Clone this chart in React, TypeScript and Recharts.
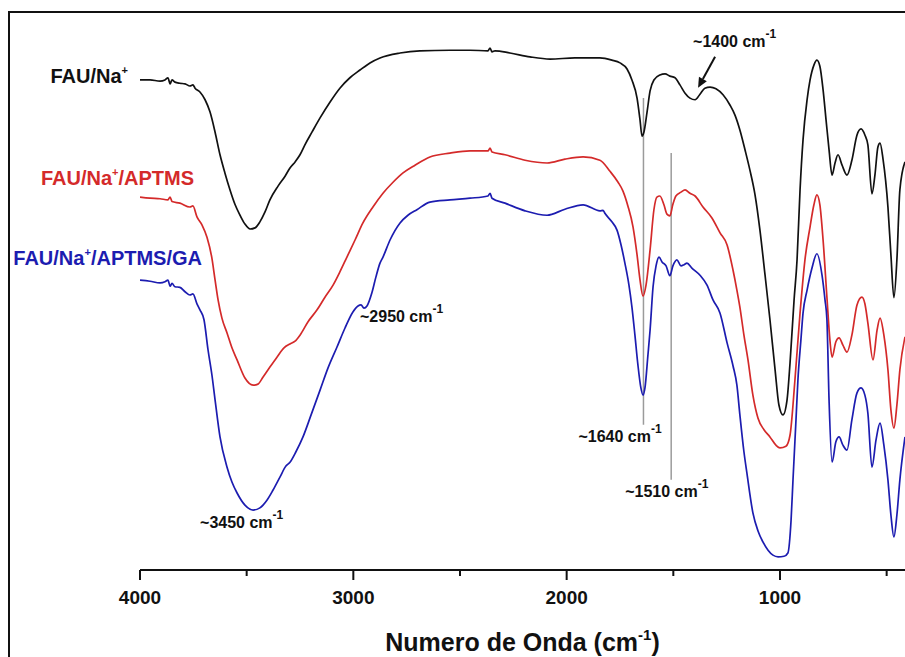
import React from "react";
import { LineChart, Line, XAxis, YAxis, ReferenceLine, ReferenceDot } from "recharts";

// FTIR spectra: [wavenumber (cm-1), transmittance (a.u.)]
const fauNa: [number, number][] = [
  [4000, 89.1], [3953, 89.1], [3906, 88.9], [3883, 89.1], [3869, 89.5], [3859, 88.4], [3850, 89.1],
  [3836, 88.7], [3813, 88.5], [3789, 88.4], [3766, 88.0], [3752, 88.2], [3742, 87.6], [3719, 86.9],
  [3695, 85.5], [3672, 83.3], [3648, 79.6], [3625, 75.5], [3602, 72.2], [3578, 69.1], [3555, 66.5],
  [3531, 64.5], [3508, 62.9], [3484, 62.0], [3461, 62.2], [3438, 63.3], [3414, 65.1], [3391, 67.3],
  [3353, 69.8], [3320, 71.6], [3297, 73.1], [3273, 74.2], [3250, 75.5], [3227, 77.3], [3194, 79.6],
  [3156, 82.2], [3109, 85.1], [3063, 87.6], [3016, 89.5], [2969, 90.9], [2922, 92.2], [2875, 93.1],
  [2781, 94.0], [2688, 94.4], [2547, 94.5], [2453, 94.5], [2369, 94.4], [2359, 94.9], [2350, 94.2],
  [2336, 94.4], [2266, 94.0], [2172, 93.3], [2078, 92.9], [1961, 93.1], [1844, 93.1], [1788, 92.7],
  [1750, 92.2], [1717, 91.1], [1694, 89.1], [1670, 85.8], [1656, 81.8], [1647, 78.9], [1638, 79.6],
  [1623, 83.3], [1609, 87.1], [1591, 89.1], [1563, 90.0], [1539, 90.2], [1516, 89.8], [1492, 89.5],
  [1469, 88.2], [1445, 86.7], [1422, 85.8], [1398, 85.5], [1375, 86.5], [1352, 87.6], [1328, 87.8],
  [1300, 87.5], [1267, 86.4], [1234, 84.5], [1211, 82.7], [1188, 80.0], [1164, 76.4], [1141, 72.7],
  [1117, 68.2], [1094, 61.8], [1070, 53.6], [1047, 45.5], [1023, 36.4], [1005, 30.0], [986, 28.2],
  [967, 30.9], [953, 37.6], [934, 49.1], [920, 56.4], [906, 69.1], [892, 78.2], [873, 85.5],
  [859, 89.1], [841, 91.8], [827, 92.7], [813, 91.6], [798, 87.3], [784, 81.8], [770, 76.4],
  [756, 71.8], [742, 74.0], [728, 75.5], [709, 73.6], [686, 71.8], [663, 74.5], [639, 79.1],
  [620, 80.2], [602, 79.1], [588, 77.3], [569, 68.4], [555, 71.8], [541, 76.9], [531, 77.6],
  [517, 74.7], [494, 66.0], [480, 57.3], [466, 49.5], [452, 56.4], [438, 69.1], [414, 74.2],
];

const fauNaAptms: [number, number][] = [
  [4000, 67.8], [3953, 67.6], [3906, 67.5], [3869, 67.3], [3859, 67.8], [3850, 67.0], [3813, 66.7],
  [3766, 66.0], [3752, 66.2], [3733, 64.2], [3709, 62.7], [3686, 60.5], [3663, 56.7], [3648, 52.7],
  [3634, 49.1], [3616, 45.8], [3592, 43.1], [3569, 40.4], [3545, 38.2], [3508, 34.9], [3470, 33.6],
  [3447, 33.8], [3423, 35.1], [3391, 36.9], [3358, 38.7], [3325, 40.4], [3297, 41.1], [3273, 41.6],
  [3250, 42.7], [3213, 45.1], [3170, 47.3], [3133, 49.6], [3095, 51.8], [3063, 54.2], [3030, 56.9],
  [2992, 60.0], [2955, 63.1], [2908, 66.0], [2861, 68.5], [2814, 70.5], [2767, 72.2], [2711, 73.6],
  [2641, 75.1], [2547, 75.8], [2453, 76.2], [2369, 76.2], [2359, 76.7], [2350, 76.0], [2289, 75.5],
  [2195, 74.5], [2092, 74.0], [2008, 74.7], [1923, 75.1], [1844, 74.5], [1797, 72.5], [1759, 70.5],
  [1736, 68.9], [1713, 66.2], [1689, 62.4], [1670, 57.3], [1656, 52.7], [1642, 49.8], [1628, 51.8],
  [1609, 58.2], [1591, 65.5], [1577, 67.8], [1563, 68.0], [1544, 66.4], [1530, 64.7], [1516, 64.4],
  [1502, 66.5], [1488, 68.0], [1464, 68.7], [1445, 69.1], [1422, 68.5], [1398, 68.0], [1361, 66.0],
  [1319, 64.0], [1281, 61.3], [1248, 59.1], [1220, 54.5], [1202, 50.9], [1188, 47.8], [1169, 42.7],
  [1150, 38.2], [1127, 31.8], [1103, 27.6], [1075, 25.5], [1047, 24.2], [1019, 22.7], [1000, 22.2],
  [972, 22.5], [953, 24.5], [930, 34.5], [906, 46.7], [883, 56.4], [859, 62.4], [841, 66.4],
  [827, 68.2], [813, 66.4], [798, 60.0], [780, 49.6], [766, 41.8], [756, 38.7], [738, 41.5],
  [723, 42.2], [705, 40.9], [686, 39.6], [663, 42.7], [639, 48.2], [616, 49.6], [602, 48.4],
  [588, 44.9], [564, 38.2], [545, 43.6], [531, 45.8], [513, 42.7], [494, 36.4], [480, 29.1],
  [466, 25.8], [452, 30.0], [438, 36.4], [414, 42.4],
];

const fauNaAptmsGa: [number, number][] = [
  [4000, 52.7], [3953, 52.5], [3906, 52.2], [3883, 52.4], [3869, 52.7], [3859, 51.6], [3850, 52.1],
  [3836, 51.5], [3813, 51.4], [3789, 50.6], [3766, 50.0], [3752, 50.2], [3733, 48.4], [3719, 47.3],
  [3700, 45.5], [3681, 40.0], [3663, 35.5], [3648, 30.9], [3625, 24.2], [3592, 18.7], [3569, 16.0],
  [3545, 14.0], [3508, 11.8], [3470, 10.9], [3438, 11.3], [3405, 12.7], [3377, 14.5], [3344, 16.9],
  [3316, 18.9], [3297, 19.6], [3269, 21.5], [3236, 24.2], [3198, 28.2], [3156, 32.7], [3119, 36.7],
  [3077, 40.5], [3039, 44.0], [3002, 46.9], [2978, 48.0], [2964, 48.2], [2950, 47.6], [2936, 48.0],
  [2913, 50.4], [2894, 53.3], [2875, 55.8], [2861, 56.9], [2828, 60.0], [2781, 63.1], [2744, 64.5],
  [2702, 65.5], [2641, 66.9], [2547, 67.3], [2453, 67.6], [2369, 68.0], [2359, 68.5], [2350, 67.6],
  [2289, 66.7], [2195, 65.3], [2092, 64.5], [2008, 65.6], [1923, 66.4], [1844, 65.3], [1830, 65.4],
  [1820, 64.8], [1788, 63.3], [1764, 61.8], [1745, 59.1], [1727, 55.8], [1708, 51.8], [1694, 47.8],
  [1680, 42.7], [1666, 37.3], [1652, 33.1], [1642, 31.8], [1633, 33.1], [1619, 39.1], [1609, 43.6],
  [1595, 51.5], [1581, 55.3], [1567, 56.9], [1553, 56.0], [1534, 55.3], [1516, 53.5], [1502, 55.3],
  [1483, 56.4], [1464, 55.3], [1450, 55.5], [1436, 55.8], [1413, 54.9], [1375, 53.6], [1342, 51.8],
  [1314, 49.1], [1281, 46.7], [1248, 41.3], [1220, 37.1], [1202, 33.6], [1188, 28.2], [1169, 21.5],
  [1155, 17.6], [1127, 10.4], [1103, 7.1], [1080, 5.1], [1056, 3.6], [1033, 2.7], [1009, 2.4],
  [981, 2.5], [963, 3.1], [948, 9.1], [939, 16.4], [925, 27.3], [916, 34.5], [902, 41.8],
  [892, 46.7], [873, 50.9], [850, 54.9], [827, 57.5], [803, 53.6], [789, 49.1], [780, 45.5],
  [770, 30.9], [756, 19.6], [738, 23.3], [723, 24.2], [705, 22.7], [686, 21.8], [663, 27.3],
  [639, 32.2], [620, 33.1], [602, 31.8], [588, 28.5], [569, 18.7], [550, 23.6], [531, 26.7],
  [513, 22.7], [494, 16.4], [480, 10.0], [466, 6.0], [452, 10.0], [438, 16.4], [414, 24.2],
];

const xTicks = [4000, 3500, 3000, 2500, 2000, 1500, 1000, 500];
const xDomain: [number, number] = [414, 4000];

// guide lines at the amide bands: [wavenumber, top, bottom]
const bandGuides: [number, number, number][] = [
  [1640, 85.8, 26.4],
  [1510, 75.8, 16.4],
];

const FONT = '"Liberation Sans", Arial, Helvetica, sans-serif';
const BLACK = "#111111";
const RED = "#d42a2a";
const BLUE = "#1c1cb0";

const toRows = (pts: [number, number][]) => pts.map(([wn, t]) => ({ wn, t }));

const WaveTick = (props: any) => {
  const { x, y, payload } = props;
  const major = payload.value % 1000 === 0;
  return (
    <g>
      <line x1={x} x2={x} y1={y} y2={y + (major ? 10 : 6)} stroke={BLACK} strokeWidth={2} />
      {major && (
        <text x={x} y={y + 34} textAnchor="middle" fontFamily={FONT} fontWeight="bold" fontSize={19} fill={BLACK}>
          {payload.value}
        </text>
      )}
    </g>
  );
};

const AxisTitle = (props: any) => {
  const vb = props.viewBox || {};
  const cx = (vb.x ?? 0) + (vb.width ?? 0) / 2;
  const y = (vb.y ?? 0) + 81;
  return (
    <text x={cx} y={y} textAnchor="middle" fontFamily={FONT} fontWeight="bold" fontSize={25} fill={BLACK}>
      <tspan>Numero de Onda (cm</tspan>
      <tspan dy={-11} fontSize={15}>-1</tspan>
      <tspan dy={11}>)</tspan>
    </text>
  );
};

// sample name placed next to the start of each spectrum
const sampleLabel = (suffix: string, color: string, dx: number, dy: number) => (p: any) => (
  <text
    x={p.cx + dx}
    y={p.cy + dy}
    textAnchor="end"
    fontFamily={FONT}
    fontWeight="bold"
    fontSize={20}
    fill={color}
  >
    <tspan>FAU/Na</tspan>
    <tspan dy={-9} fontSize={11}>+</tspan>
    <tspan dy={9}>{suffix}</tspan>
  </text>
);

// band annotation "~xxxx cm-1" placed relative to a spectrum point
const bandLabel = (text: string, dx: number, dy: number) => (p: any) => (
  <text x={p.cx + dx} y={p.cy + dy} fontFamily={FONT} fontWeight="bold" fontSize={16} fill={BLACK}>
    <tspan>{text} cm</tspan>
    <tspan dy={-9} fontSize={12}>-1</tspan>
  </text>
);

const arrowLabel = (p: any) => {
  const x0 = p.cx + 20;
  const y0 = p.cy - 43;
  const x1 = p.cx + 3;
  const y1 = p.cy - 12;
  const ang = Math.atan2(y1 - y0, x1 - x0);
  const len = 10;
  const w = 4.5;
  const bx = x1 - len * Math.cos(ang);
  const by = y1 - len * Math.sin(ang);
  const nx = -Math.sin(ang) * w;
  const ny = Math.cos(ang) * w;
  return (
    <g>
      <line x1={x0} y1={y0} x2={bx} y2={by} stroke={BLACK} strokeWidth={2} />
      <polygon points={`${x1},${y1} ${bx + nx},${by + ny} ${bx - nx},${by - ny}`} fill={BLACK} />
      <text x={p.cx - 2} y={p.cy - 53} fontFamily={FONT} fontWeight="bold" fontSize={16} fill={BLACK}>
        <tspan>~1400 cm</tspan>
        <tspan dy={-9} fontSize={12}>-1</tspan>
      </text>
    </g>
  );
};

export default function App() {
  const W = 905;
  const H = 657;
  return (
    <div style={{ position: "fixed", left: 0, top: 0, width: W, height: H, overflow: "hidden", background: "#fff" }}>
      <div
        style={{
          position: "absolute",
          left: 8,
          top: 11,
          width: W,
          height: H,
          borderLeft: "2px solid #111",
          borderTop: "2px solid #111",
          boxSizing: "border-box",
        }}
      />
      <div style={{ position: "absolute", left: 0, top: 0 }}>
        <LineChart width={W} height={H} margin={{ top: 20, right: 0, bottom: 0, left: 140 }}>
          <XAxis
            dataKey="wn"
            type="number"
            domain={xDomain}
            reversed
            allowDataOverflow
            ticks={xTicks}
            interval={0}
            height={87}
            tickSize={0}
            tickMargin={0}
            tickLine={false}
            tick={<WaveTick />}
            axisLine={{ stroke: BLACK, strokeWidth: 2 }}
            label={{ content: <AxisTitle /> }}
          />
          <YAxis hide type="number" domain={[0, 100]} allowDataOverflow />
          {bandGuides.map(([wn, top, bottom]) => (
            <ReferenceLine
              key={wn}
              segment={[
                { x: wn, y: top },
                { x: wn, y: bottom },
              ]}
              stroke="#9b9b9b"
              strokeWidth={1.5}
              ifOverflow="visible"
            />
          ))}
          <Line data={toRows(fauNa)} dataKey="t" type="monotoneX" stroke={BLACK} strokeWidth={1.7} dot={false} activeDot={false} isAnimationActive={false} />
          <Line data={toRows(fauNaAptms)} dataKey="t" type="monotoneX" stroke={RED} strokeWidth={1.7} dot={false} activeDot={false} isAnimationActive={false} />
          <Line data={toRows(fauNaAptmsGa)} dataKey="t" type="monotoneX" stroke={BLUE} strokeWidth={1.7} dot={false} activeDot={false} isAnimationActive={false} />

          <ReferenceDot x={fauNa[0][0]} y={fauNa[0][1]} r={0} ifOverflow="visible" shape={sampleLabel("", BLACK, -12, 3)} />
          <ReferenceDot x={fauNaAptms[0][0]} y={fauNaAptms[0][1]} r={0} ifOverflow="visible" shape={sampleLabel("/APTMS", RED, 54, -12)} />
          <ReferenceDot x={fauNaAptmsGa[0][0]} y={fauNaAptmsGa[0][1]} r={0} ifOverflow="visible" shape={sampleLabel("/APTMS/GA", BLUE, 62, -15)} />

          <ReferenceDot x={1398} y={85.5} r={0} ifOverflow="visible" shape={arrowLabel} />
          <ReferenceDot x={3470} y={10.9} r={0} ifOverflow="visible" shape={bandLabel("~3450", -53, 18)} />
          <ReferenceDot x={2950} y={47.6} r={0} ifOverflow="visible" shape={bandLabel("~2950", -4, 14)} />
          <ReferenceDot x={bandGuides[0][0]} y={bandGuides[0][2]} r={0} ifOverflow="visible" shape={bandLabel("~1640", -65, 17)} />
          <ReferenceDot x={bandGuides[1][0]} y={bandGuides[1][2]} r={0} ifOverflow="visible" shape={bandLabel("~1510", -46, 17)} />
        </LineChart>
      </div>
    </div>
  );
}
